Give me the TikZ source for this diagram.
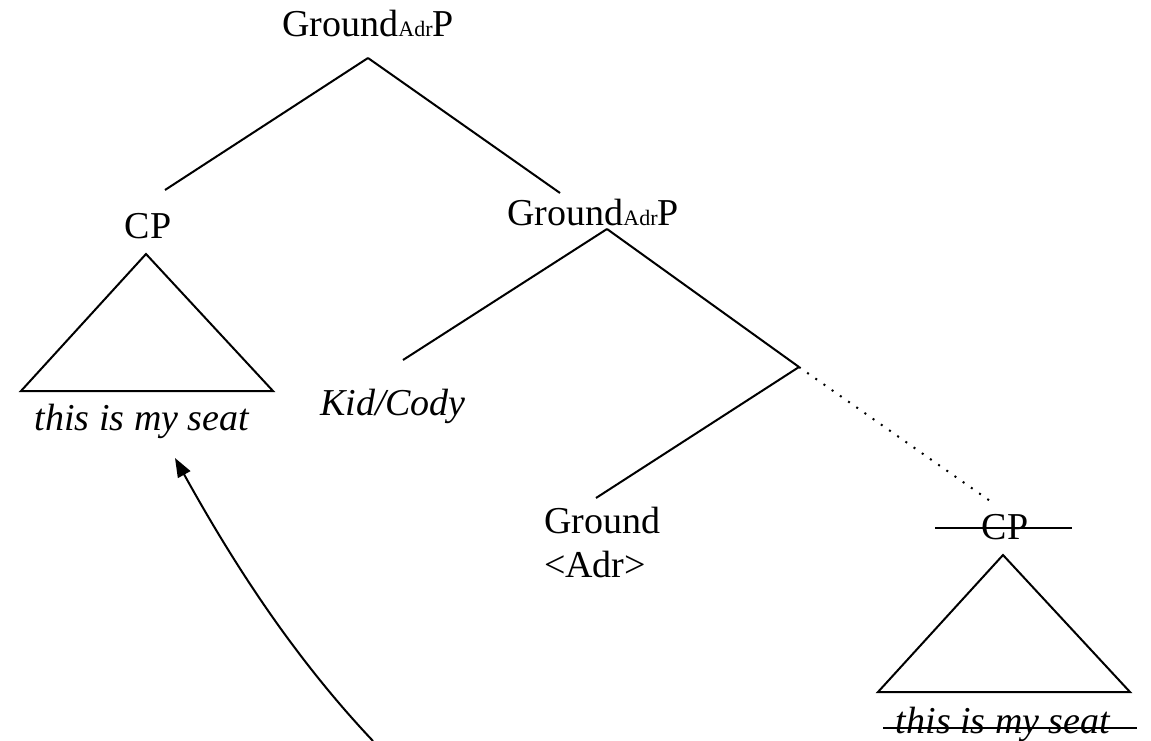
\documentclass[tikz,border=0pt]{standalone}
\usepackage{fontspec}
\setmainfont{Liberation Serif}
\usetikzlibrary{arrows.meta, calc}
\newcommand{\adrsub}{{\fontsize{22}{26}\selectfont Adr}}

\begin{document}
\begin{tikzpicture}[x=1pt, y=-1pt, line width=2pt,
  lbl/.style={inner sep=0pt, anchor=base, font=\fontsize{38}{44}\selectfont},
  sem/.style={lbl, font=\fontsize{38}{44}\selectfont\itshape},
  strike/.style={line width=2pt}]
  \useasboundingbox (0,0) rectangle (1151,741);

  \node[lbl] (root) at (368,37) {Ground\adrsub P};
  \node[lbl] (cpL) at (148,238) {CP};
  \node[sem] (semL) at (142,430) {this is my seat};
  \node[lbl] (grP) at (593,225) {Ground\adrsub P};
  \node[sem] (kid) at (393,415) {Kid/Cody};
  \node[lbl, anchor=base west, align=left] (ground) at (543,577) {Ground\\<Adr>};
  \node[lbl] (cpR) at (1005,539) {CP};
  \node[sem] (semR) at (1003,733) {this is my seat};

  % branch points
  \coordinate (rootB) at ($(root.base)+(0,21)$);
  \coordinate (grPB) at ($(grP.base)+(14,4)$);
  \coordinate (bar) at (799,367);
  \coordinate (cpLT) at (165,190);
  \coordinate (grPT) at (560,193);
  \coordinate (kidT) at (403,360);
  \coordinate (groundT) at (596,498);
  \coordinate (cpRT) at (993,503);

  \draw (rootB) -- (cpLT);
  \draw (rootB) -- (grPT);
  \draw (grPB) -- (kidT);
  \draw (grPB) -- (bar);
  \draw (bar) -- (groundT);
  \draw[dash pattern=on 2pt off 8pt] (bar) -- (cpRT);

  % triangles
  \foreach \n in {cpL,cpR}
    \draw ($(\n.base)+(-2,16)$) -- ($(\n.base)+(-127,153)$)
      -- ($(\n.base)+(125,153)$) -- cycle;

  % struck out copy
  \draw[strike] ($(cpR.base)+(-70,-11)$) -- ($(cpR.base)+(67,-11)$);
  \draw[strike] ($(semR.base)+(-120,-5)$) -- ($(semR.base)+(134,-5)$);

  % movement
  \coordinate (tail) at (373,741);
  \draw[-{Triangle[length=19pt,width=14pt]}] (tail)
    .. controls (287,650) and (226,550) .. ([shift={(33,28)}]semL.base);
\end{tikzpicture}
\end{document}
